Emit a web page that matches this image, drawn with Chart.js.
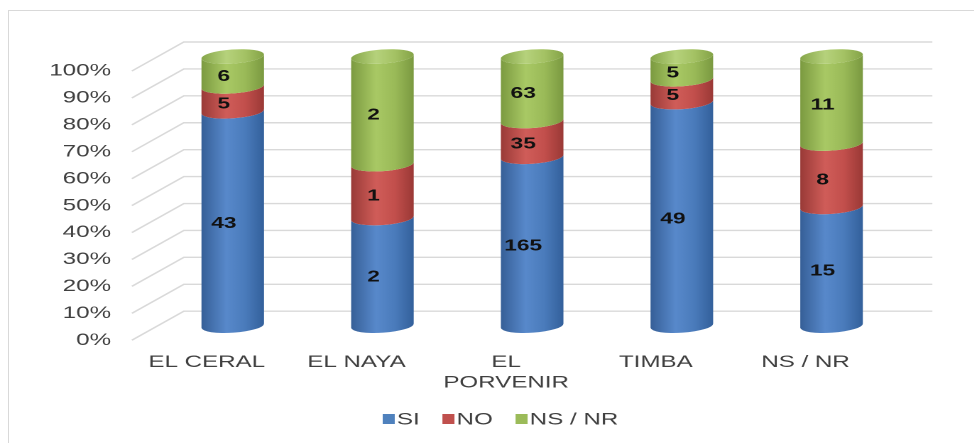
<!DOCTYPE html>
<html>
<head>
<meta charset="utf-8">
<title>Respuestas por vereda</title>
<script src="https://cdn.jsdelivr.net/npm/chart.js@4.4.0/dist/chart.umd.min.js"></script>
<style>
  html, body { margin: 0; padding: 0; background: #fff; overflow: hidden; }
  #frame { position: absolute; left: 8px; top: 10px; width: 1000px; height: 500px; border: 1px solid #d9d9d9; }
  /* chart is laid out narrow and stretched sideways, like the exported figure */
  #wrap { position: absolute; left: 0; top: 0; width: 686px; height: 443px; transform: scaleX(1.42); transform-origin: 0 0; }
</style>
</head>
<body>
<div id="frame"></div>
<div id="wrap"><canvas id="chart"></canvas></div>
<script>
const categories = ['EL CERAL', 'EL NAYA', ['EL', 'PORVENIR'], 'TIMBA', 'NS / NR'];
const si   = [43, 2, 165, 49, 15];
const no   = [5, 1, 35, 5, 8];
const nsnr = [6, 2, 63, 5, 11];
const seriesNames = ['SI', 'NO', 'NS / NR'];
const yTicks = [0, 10, 20, 30, 40, 50, 60, 70, 80, 90, 100];

const counts = [si, no, nsnr];
const totals = categories.map((_, i) => si[i] + no[i] + nsnr[i]);
const toPct = arr => arr.map((v, i) => v / totals[i] * 100);

// edge / highlight / mid / edge shades for each series
const palette = [
  { base: '#4f81bd', shade: ['#365f97', '#5889cb', '#4a7bbb', '#33609b'] },
  { base: '#c0504d', shade: ['#993a37', '#d05d59', '#c24f4c', '#9a3936'] },
  { base: '#9bbb59', shade: ['#7b9a40', '#a9c965', '#9aba58', '#7a9940'] }
];
const capShade = ['#86a64a', '#b6d27c', '#a4c264', '#84a347'];

const DEPTH_X = 36.6;
const DEPTH_Y = -29;
const RY = 7;
const TILT = -0.1;
const FONT = '"Liberation Sans", Arial, sans-serif';

Chart.defaults.font.family = FONT;
Chart.defaults.color = '#404040';

function hGrad(ctx, x0, x1, stops) {
  const g = ctx.createLinearGradient(x0, 0, x1, 0);
  g.addColorStop(0, stops[0]);
  g.addColorStop(0.4, stops[1]);
  g.addColorStop(0.7, stops[2]);
  g.addColorStop(1, stops[3]);
  return g;
}

// back wall gridlines with the receding lines at the left
const wallGrid = {
  id: 'wallGrid',
  beforeDatasetsDraw(chart) {
    const { ctx, chartArea: a, scales: { y } } = chart;
    ctx.save();
    ctx.strokeStyle = '#d9d9d9';
    ctx.lineWidth = 1.4;
    yTicks.forEach(t => {
      const py = y.getPixelForValue(t);
      ctx.beginPath();
      ctx.moveTo(a.left, py);
      ctx.lineTo(a.left + DEPTH_X, py + DEPTH_Y);
      ctx.lineTo(a.right + DEPTH_X, py + DEPTH_Y);
      ctx.stroke();
    });
    ctx.restore();
  }
};

// stacked bars are drawn as cylinders
const cylinders = {
  id: 'cylinders',
  beforeDatasetDraw() {
    return false;
  },
  afterDatasetsDraw(chart) {
    const ctx = chart.ctx;
    const metas = chart.data.datasets.map((_, d) => chart.getDatasetMeta(d));
    ctx.save();
    categories.forEach((_, i) => {
      let topSeg = null;
      metas.forEach((meta, d) => {
        const bar = meta.data[i];
        if (!bar || counts[d][i] === 0) return;
        const rx = bar.width / 2;
        const cx = bar.x + DEPTH_X / 2;
        const top = bar.y + DEPTH_Y / 2;
        const bottom = bar.base + DEPTH_Y / 2;
        ctx.beginPath();
        ctx.ellipse(cx, bottom, rx, RY, TILT, Math.PI, 0, true);
        ctx.ellipse(cx, top, rx, RY, TILT, 0, Math.PI, false);
        ctx.closePath();
        ctx.fillStyle = hGrad(ctx, cx - rx, cx + rx, palette[d].shade);
        ctx.fill();
        topSeg = { cx, top, rx };
      });
      if (topSeg) {
        ctx.beginPath();
        ctx.ellipse(topSeg.cx, topSeg.top, topSeg.rx, RY, TILT, 0, Math.PI * 2);
        ctx.fillStyle = hGrad(ctx, topSeg.cx - topSeg.rx, topSeg.cx + topSeg.rx, capShade);
        ctx.fill();
      }
    });

    // value labels
    ctx.font = 'bold 16px ' + FONT;
    ctx.fillStyle = '#111';
    ctx.textAlign = 'center';
    ctx.textBaseline = 'middle';
    metas.forEach((meta, d) => {
      meta.data.forEach((bar, i) => {
        if (counts[d][i] === 0) return;
        ctx.fillText(String(counts[d][i]), bar.x + 12, (bar.y + bar.base) / 2 - 9.5);
      });
    });
    ctx.restore();
  }
};

// legend row under the axis
const bottomLegend = {
  id: 'bottomLegend',
  afterDraw(chart) {
    const { ctx, chartArea: a } = chart;
    ctx.save();
    ctx.font = '17px ' + FONT;
    ctx.textBaseline = 'middle';
    ctx.textAlign = 'left';
    const box = 8.5, gap = 1.5, spacing = 16, cy = 420;
    const widths = seriesNames.map(n => ctx.measureText(n).width);
    const total = widths.reduce((s, w) => s + box + gap + w, 0) + spacing * (seriesNames.length - 1);
    let x = (a.left + a.right) / 2 - 4 - total / 2;
    seriesNames.forEach((n, k) => {
      ctx.fillStyle = palette[k].base;
      ctx.fillRect(x, cy - 6, box, 10);
      ctx.fillStyle = '#404040';
      ctx.fillText(n, x + box + gap, cy);
      x += box + gap + widths[k] + spacing;
    });
    ctx.restore();
  }
};

new Chart(document.getElementById('chart'), {
  type: 'bar',
  data: {
    labels: categories,
    datasets: counts.map((arr, d) => ({
      label: seriesNames[d],
      data: toPct(arr),
      backgroundColor: palette[d].base,
      barPercentage: 1,
      categoryPercentage: 0.42
    }))
  },
  options: {
    responsive: true,
    maintainAspectRatio: false,
    animation: false,
    devicePixelRatio: 2,
    layout: { padding: { left: 20, top: 71, right: 66, bottom: 38 } },
    plugins: {
      legend: { display: false },
      tooltip: { enabled: false }
    },
    scales: {
      x: {
        stacked: true,
        grid: { display: false, drawTicks: false },
        border: { display: false },
        ticks: { font: { size: 17 }, padding: 12, maxRotation: 0, autoSkip: false }
      },
      y: {
        stacked: true,
        min: 0,
        max: 100,
        grid: { display: false, drawTicks: false },
        border: { display: false },
        ticks: {
          stepSize: 10,
          padding: 14.7,
          font: { size: 17 },
          callback: v => v + '%'
        }
      }
    }
  },
  plugins: [wallGrid, cylinders, bottomLegend]
});
</script>
</body>
</html>
